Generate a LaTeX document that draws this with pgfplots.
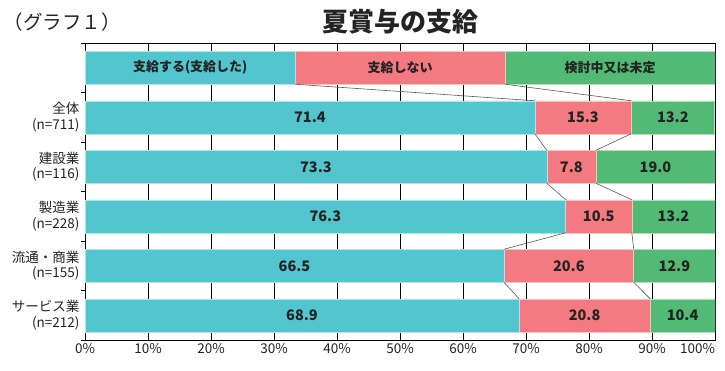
\documentclass[border=0pt]{standalone}
\usepackage{pgfplots}
\pgfplotsset{compat=1.18}
\usepackage{fontspec}
\setmainfont{Noto Sans CJK JP}
\definecolor{cA}{RGB}{83,197,207}
\definecolor{cB}{RGB}{242,122,128}
\definecolor{cC}{RGB}{82,186,117}
\definecolor{txt}{RGB}{35,35,35}
\begin{document}
\begin{tikzpicture}
\useasboundingbox (0,0) rectangle (725pt,370pt);
\node[anchor=west, font=\fontsize{19.5}{21}\selectfont, text=txt] at (0pt,348pt) {（グラフ１）};
\node[font=\fontsize{26}{28}\selectfont\bfseries, text=txt] at (400pt,348pt) {夏賞与の支給};
\pgfplotsset{base/.style={at={(85pt,30pt)}, anchor=south west, scale only axis,
  width=630pt, height=297pt, xmin=0, xmax=100, ymin=-0.5, ymax=5.5, y dir=reverse}}
\begin{axis}[base, xbar stacked, bar width=33pt,
  axis line style={black, line width=1pt},
  xtick={0,10,...,100}, xtick pos=bottom, ytick pos=left,
  xticklabels={0\%,10\%,20\%,30\%,40\%,50\%,60\%,70\%,80\%,90\%,\makebox[0pt][r]{100\%}},
  xmajorgrids, grid style={black, line width=0.8pt},
  ytick={1,2,3,4,5},
  yticklabels={{全体\\(n=711)},{建設業\\(n=116)},{製造業\\(n=228)},{流通・商業\\(n=155)},{サービス業\\(n=212)}},
  yticklabel style={align=right, font=\fontsize{13.5}{15.5}\selectfont, text=txt, xshift=-2pt},
  xticklabel style={font=\fontsize{13.5}{15}\selectfont, text=txt},
  major tick length=0pt,
  minor ytick={-0.5,0.5,1.5,2.5,3.5,4.5,5.5},
  minor tick length=4pt, tick align=outside,
  tick style={black, line width=0.8pt},
]
\addplot[fill=cA, draw=white!55!cA, line width=0.5pt] coordinates {(33.4,0) (71.4,1) (73.3,2) (76.3,3) (66.5,4) (68.9,5)};
\addplot[fill=cB, draw=white!55!cB, line width=0.5pt] coordinates {(33.3,0) (15.3,1) (7.8,2) (10.5,3) (20.6,4) (20.8,5)};
\addplot[fill=cC, draw=white!55!cC, line width=0.5pt] coordinates {(33.3,0) (13.2,1) (19.0,2) (13.2,3) (12.9,4) (10.4,5)};
\end{axis}
\begin{axis}[base, axis lines=none, clip=false]
\pgfplotsset{conn/.style={black!65, line width=0.6pt}}
\addplot[conn] coordinates {(33.4,0.333) (71.4,0.667)};
\addplot[conn] coordinates {(66.7,0.333) (86.7,0.667)};
\addplot[conn] coordinates {(71.4,1.333) (73.3,1.667)};
\addplot[conn] coordinates {(86.7,1.333) (81.1,1.667)};
\addplot[conn] coordinates {(73.3,2.333) (76.3,2.667)};
\addplot[conn] coordinates {(81.1,2.333) (86.8,2.667)};
\addplot[conn] coordinates {(76.3,3.333) (66.5,3.667)};
\addplot[conn] coordinates {(86.8,3.333) (87.1,3.667)};
\addplot[conn] coordinates {(66.5,4.333) (68.9,4.667)};
\addplot[conn] coordinates {(87.1,4.333) (89.7,4.667)};
\addplot[draw=none, mark=none, nodes near coords, point meta=explicit symbolic,
  nodes near coords style={anchor=center, font=\bfseries\fontsize{14.5}{14.5}\selectfont, text=txt}]
  coordinates {
  (35.7,1) [71.4] (79.05,1) [15.3] (93.3,1) [13.2]
  (36.65,2) [73.3] (77.2,2) [7.8] (90.55,2) [19.0]
  (38.15,3) [76.3] (81.55,3) [10.5] (93.4,3) [13.2]
  (33.25,4) [66.5] (76.8,4) [20.6] (93.55,4) [12.9]
  (34.45,5) [68.9] (79.3,5) [20.8] (94.85,5) [10.4]
  };
\addplot[draw=none, mark=none, nodes near coords, point meta=explicit symbolic,
  nodes near coords style={anchor=center, font=\bfseries\fontsize{13}{13}\selectfont, text=txt}]
  coordinates {
  (16.7,0) [支給する(支給した)] (50,0) [支給しない] (83.35,0) [検討中又は未定]
  };
\end{axis}
\end{tikzpicture}
\end{document}
